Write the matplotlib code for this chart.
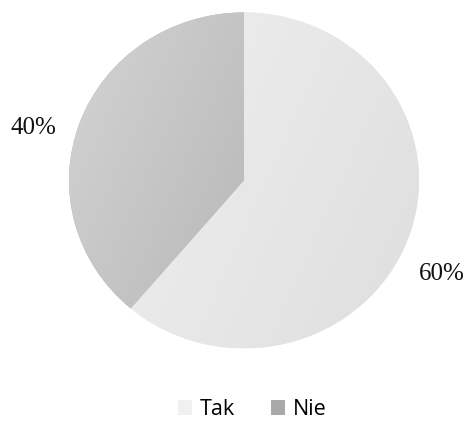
import numpy as np
import matplotlib.pyplot as plt
from matplotlib.colors import to_rgb
from matplotlib.patches import Patch

labels = ['Tak', 'Nie']
values = [61.2, 38.8]          # slice sizes as drawn in the picture
pct_labels = ['60%', '40%']    # labels as printed
colors = ['#e8e8e8', '#b8b8b8']
# gradient ends for each wedge (light, dark)
grads = [('#f2f2f2', '#dedede'), ('#d4d4d4', '#a6a6a6')]

W, H = 467, 421
fig = plt.figure(figsize=(W / 100, H / 100), dpi=100)
cx, cy, rx, ry = 244, 180.4, 175, 168
ax = fig.add_axes([(cx - rx) / W, (H - cy - ry) / H, 2 * rx / W, 2 * ry / H])

wedges, _ = ax.pie(values, colors=colors, startangle=90, counterclock=False,
                   radius=1, wedgeprops=dict(linewidth=0))

# soft gradient fill, clipped to each wedge
xx, yy = np.meshgrid(np.linspace(-1, 1, 300), np.linspace(1, -1, 300))
t = np.clip((1.4 * xx - 0.6 * yy + 2) / 4, 0, 1)
for w, (c0, c1) in zip(wedges, grads):
    a = np.array(to_rgb(c0))
    b = np.array(to_rgb(c1))
    img = a[None, None, :] * (1 - t[..., None]) + b[None, None, :] * t[..., None]
    im = ax.imshow(img, extent=(-1, 1, -1, 1), zorder=2, interpolation='bilinear',
                   aspect='auto')
    im.set_clip_path(w)

# percentage labels outside the pie
label_pos = [(1.131, -0.56), (-1.203, 0.31)]
for txt, (x, y) in zip(pct_labels, label_pos):
    ax.text(x, y, txt, ha='center', va='center', fontsize=18,
            family='Liberation Serif', color='#111111')

ax.set_xlim(-1, 1)
ax.set_ylim(-1, 1)
ax.set_aspect('auto')
ax.axis('off')

handles = [Patch(facecolor=c, edgecolor='none') for c in ['#f0f0f0', '#a9a9a9']]
fig.legend(handles, labels, loc='center', bbox_to_anchor=(252 / W, 1 - 409.5 / H),
           ncol=2, frameon=False, prop={'family': 'Open Sans', 'size': 15.5},
           handlelength=0.65, handleheight=0.65, handletextpad=0.37,
           columnspacing=1.67, borderpad=0)

fig.savefig('out.png', dpi=100)
